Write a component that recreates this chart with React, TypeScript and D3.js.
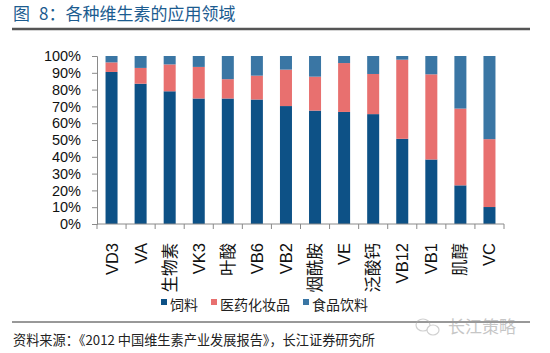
import React, { useRef, useEffect } from "react";
import * as d3 from "d3";

const categories = ["VD3", "VA", "生物素", "VK3", "叶酸", "VB6", "VB2", "烟酰胺", "VE", "泛酸钙", "VB12", "VB1", "肌醇", "VC"];
const feed = [90.5, 83.5, 79, 74.7, 74.7, 74.1, 70.2, 67.5, 66.7, 65.4, 50.7, 38.4, 23, 10.1];
const pharma = [5.7, 9.4, 16, 18.8, 11.5, 14.2, 21.7, 20.2, 29.1, 23.9, 47.1, 50.7, 45.7, 40.4];
const food = [3.8, 7.1, 5, 6.5, 13.8, 11.7, 8.1, 12.3, 4.2, 10.7, 2.2, 10.9, 31.3, 49.5];
const seriesNames = ["饲料", "医药化妆品", "食品饮料"];
const yTicks = [0, 10, 20, 30, 40, 50, 60, 70, 80, 90, 100];

const App = () => {
    const ref = useRef(null);

    useEffect(() => {
        const width = 550
        const height = 353
        const plot = { left: 97, right: 504, top: 56, bottom: 224 }
        const colors = ["#0d5186", "#e8706f", "#3a76a4"]
        const latinCjk = "'Liberation Sans', Arial, 'Noto Sans CJK SC', sans-serif"
        const cjk = "'Noto Sans CJK SC', 'Liberation Sans', sans-serif"

        const svg = d3.select(ref.current)
            .attr("width", width)
            .attr("height", height)
        svg.selectAll("*").remove()

        svg.append("rect").attr("width", width).attr("height", height).attr("fill", "#fff")

        // title and rule under it
        const title = svg.append("text")
            .attr("y", 20)
            .style("font-family", cjk)
            .style("font-size", "17px")
            .style("font-weight", 400)
            .style("fill", "#1c5c90")
        title.append("tspan").attr("x", 13).text("图")
        title.append("tspan").attr("x", 39).text("8：各种维生素的应用领域")
        svg.append("line")
            .attr("x1", 12).attr("x2", 530)
            .attr("y1", 29).attr("y2", 29)
            .style("stroke", "#555")
            .style("stroke-width", 2.5)

        const table = categories.map((c, i) => ({ cat: c, s0: feed[i], s1: pharma[i], s2: food[i] }))
        const stacked = d3.stack().keys(["s0", "s1", "s2"])(table)

        const xScale = d3.scaleBand()
            .domain(categories)
            .range([plot.left, plot.right])
            .paddingInner(0.587)
            .paddingOuter(0.2935)

        const yScale = d3.scaleLinear()
            .domain([0, 100])
            .range([plot.bottom, plot.top])

        // bars
        stacked.forEach((layer, k) => {
            svg.append("g")
                .selectAll("rect")
                .data(layer)
                .enter()
                .append("rect")
                .attr("x", d => xScale(d.data.cat))
                .attr("y", d => yScale(Math.min(100, d[1])))
                .attr("width", xScale.bandwidth())
                .attr("height", d => yScale(d[0]) - yScale(Math.min(100, d[1])))
                .attr("fill", colors[k])
        })

        // y axis
        const yAxis = d3.axisLeft(yScale)
            .tickValues(yTicks)
            .tickSize(5)
            .tickPadding(11)
            .tickFormat(d => d + "%")
        const yG = svg.append("g")
            .attr("transform", `translate(${plot.left}, 0)`)
            .call(yAxis)
        yG.select(".domain").style("stroke", "#8a8a8a")
        yG.selectAll("line").style("stroke", "#8a8a8a")
        yG.selectAll("text")
            .style("font-family", latinCjk)
            .style("font-size", "14.5px")
            .style("fill", "#111")

        // x axis line with boundary ticks
        const step = xScale.step()
        const xG = svg.append("g")
        xG.append("line")
            .attr("x1", plot.left).attr("x2", plot.right)
            .attr("y1", plot.bottom).attr("y2", plot.bottom)
            .style("stroke", "#8a8a8a")
        xG.selectAll("line.tick")
            .data(d3.range(categories.length + 1))
            .enter()
            .append("line")
            .attr("class", "tick")
            .attr("x1", i => plot.left + i * step)
            .attr("x2", i => plot.left + i * step)
            .attr("y1", plot.bottom)
            .attr("y2", plot.bottom + 5)
            .style("stroke", "#8a8a8a")

        // rotated category labels
        svg.selectAll("text.xlabel")
            .data(categories)
            .enter()
            .append("text")
            .attr("class", "xlabel")
            .attr("transform", d => `translate(${xScale(d) + xScale.bandwidth() / 2 + 6}, 243) rotate(-90)`)
            .attr("text-anchor", "end")
            .text(d => d)
            .style("font-family", latinCjk)
            .style("font-size", "16.5px")
            .style("fill", "#111")

        // legend
        const legend = svg.append("g")
        let lx = 161
        seriesNames.forEach((name, k) => {
            legend.append("rect")
                .attr("x", lx).attr("y", 299)
                .attr("width", 6).attr("height", 6)
                .attr("fill", colors[k])
            const t = legend.append("text")
                .attr("x", lx + 9)
                .attr("y", 310)
                .text(name)
                .style("font-family", cjk)
                .style("font-size", "14px")
                .style("fill", "#222")
            lx += 9 + t.node().getComputedTextLength() + 13
        })

        // bottom rule and source
        svg.append("line")
            .attr("x1", 12).attr("x2", 530)
            .attr("y1", 322).attr("y2", 322)
            .style("stroke", "#333")
            .style("stroke-width", 1)
        svg.append("text")
            .attr("x", 13)
            .attr("y", 345)
            .text("资料来源：《2012 中国维生素产业发展报告》，长江证券研究所")
            .style("font-family", cjk)
            .style("font-size", "13.2px")
            .style("fill", "#222")

        // watermark
        const wm = svg.append("g").style("opacity", 0.55)
        wm.append("ellipse").attr("cx", 423).attr("cy", 325).attr("rx", 7).attr("ry", 6)
            .style("fill", "none").style("stroke", "#aaa").style("stroke-width", 1.2)
        wm.append("ellipse").attr("cx", 433).attr("cy", 330).attr("rx", 6).attr("ry", 5)
            .style("fill", "#fff").style("stroke", "#aaa").style("stroke-width", 1.2)
        wm.append("text")
            .attr("x", 448)
            .attr("y", 333)
            .text("长江策略")
            .style("font-family", cjk)
            .style("font-size", "17px")
            .style("fill", "#999")

    }, []);

    return (
        <div style={{ position: "absolute", left: 0, top: 0 }}>
            <svg ref={ref}></svg>
        </div>
    )
}

export default App
